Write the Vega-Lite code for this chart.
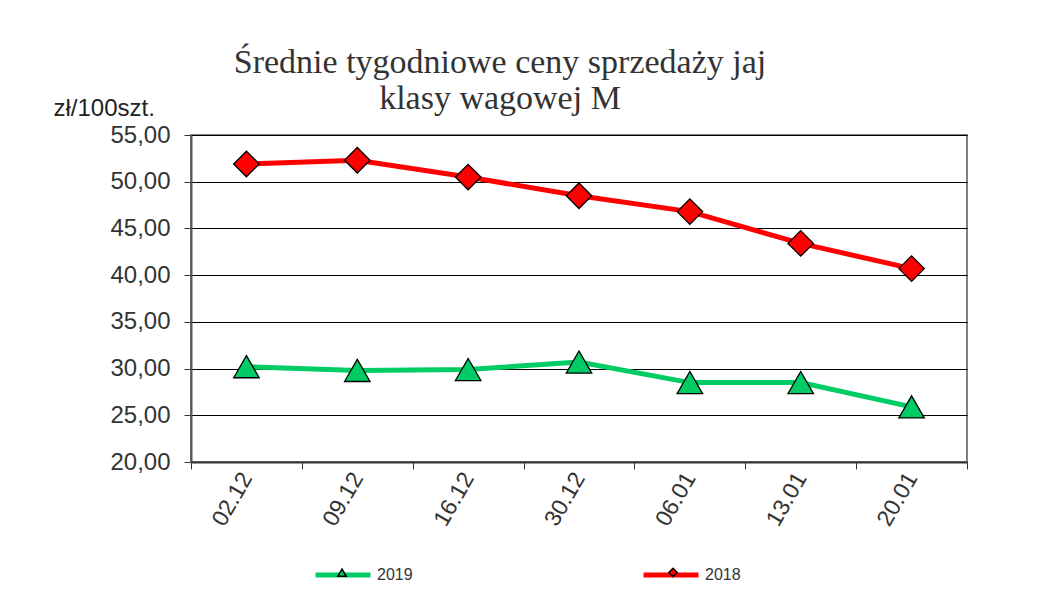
{
  "$schema": "https://vega.github.io/schema/vega-lite/v6.json",
  "width": 776,
  "height": 327,
  "autosize": {"type": "none"},
  "padding": {"left": 191, "top": 135, "right": 70, "bottom": 134},
  "background": "white",
  "title": {
    "text": ["Średnie tygodniowe ceny sprzedaży jaj", "klasy wagowej M"],
    "anchor": "middle",
    "frame": "group",
    "dx": -79,
    "dy": 40,
    "fontSize": 34,
    "fontWeight": "normal",
    "font": "Liberation Serif",
    "color": "#333333",
    "lineHeight": 36,
    "offset": 20
  },
  "data": {
    "values": [
      {"date": "02.12", "year": "2019", "value": 30.2},
      {"date": "09.12", "year": "2019", "value": 29.8},
      {"date": "16.12", "year": "2019", "value": 29.9},
      {"date": "30.12", "year": "2019", "value": 30.7},
      {"date": "06.01", "year": "2019", "value": 28.5},
      {"date": "13.01", "year": "2019", "value": 28.5},
      {"date": "20.01", "year": "2019", "value": 25.9},
      {"date": "02.12", "year": "2018", "value": 51.9},
      {"date": "09.12", "year": "2018", "value": 52.3},
      {"date": "16.12", "year": "2018", "value": 50.5},
      {"date": "30.12", "year": "2018", "value": 48.5},
      {"date": "06.01", "year": "2018", "value": 46.8},
      {"date": "13.01", "year": "2018", "value": 43.4},
      {"date": "20.01", "year": "2018", "value": 40.7}
    ]
  },
  "encoding": {
    "x": {
      "field": "date",
      "type": "ordinal",
      "sort": null,
      "scale": {"paddingInner": 0, "paddingOuter": 0},
      "axis": {
        "title": null,
        "labelAngle": -60,
        "labelFontSize": 23,
        "labelColor": "#333333",
        "labelPadding": 5,
        "tickBand": "extent",
        "tickSize": 7,
        "tickColor": "#333333",
        "domainColor": "#333333",
        "domainWidth": 2,
        "grid": false
      }
    },
    "y": {
      "field": "value",
      "type": "quantitative",
      "scale": {"domain": [20, 55], "nice": false, "zero": false},
      "axis": {
        "values": [20, 25, 30, 35, 40, 45, 50, 55],
        "labelExpr": "replace(format(datum.value, '.2f'), '.', ',')",
        "labelFontSize": 24,
        "labelColor": "#333333",
        "labelPadding": 14,
        "tickSize": 7,
        "tickColor": "#333333",
        "domainColor": "#555555",
        "domainWidth": 2,
        "grid": true,
        "gridColor": "#000000",
        "gridWidth": 1,
        "title": "zł/100szt.",
        "titleAngle": 0,
        "titleX": -138,
        "titleY": -20,
        "titleAlign": "left",
        "titleBaseline": "alphabetic",
        "titleFontSize": 24,
        "titleFontWeight": "normal",
        "titleColor": "#222222"
      }
    }
  },
  "layer": [
    {
      "mark": {"type": "line", "strokeWidth": 5},
      "encoding": {
        "stroke": {
          "field": "year",
          "type": "nominal",
          "sort": "descending",
          "scale": {"range": ["#00CC66", "#FF0000"]},
          "legend": {
            "orient": "none",
            "direction": "horizontal",
            "legendX": 122,
            "legendY": 410,
            "title": null,
            "padding": 0,
            "symbolType": "stroke",
            "symbolSize": 3025,
            "symbolStrokeWidth": 5,
            "labelFontSize": 16,
            "labelColor": "#333333",
            "labelOffset": 4,
            "columnPadding": 220
          }
        }
      }
    },
    {
      "mark": {"type": "point", "filled": true, "size": 650, "stroke": "#000000", "strokeWidth": 1.3, "opacity": 1},
      "encoding": {
        "shape": {
          "field": "year",
          "type": "nominal",
          "scale": {"domain": ["2019", "2018"], "range": ["triangle-up", "diamond"]},
          "legend": {
            "orient": "none",
            "direction": "horizontal",
            "legendX": 146,
            "legendY": 432,
            "title": null,
            "padding": 0,
            "symbolSize": 70,
            "labelExpr": "''",
            "labelOffset": 0,
            "columnPadding": 315,
            "encode": {"symbols": {"update": {"size": {"value": 70}, "strokeWidth": {"value": 1.5}, "stroke": {"value": "#000000"}}}}
          }
        },
        "fill": {
          "field": "year",
          "type": "nominal",
          "scale": {"domain": ["2019", "2018"], "range": ["#00CC66", "#FF0000"]},
          "legend": {
            "orient": "none",
            "direction": "horizontal",
            "legendX": 146,
            "legendY": 432,
            "title": null,
            "padding": 0,
            "symbolSize": 70,
            "labelExpr": "''",
            "labelOffset": 0,
            "columnPadding": 315,
            "encode": {"symbols": {"update": {"size": {"value": 70}, "strokeWidth": {"value": 1.5}, "stroke": {"value": "#000000"}}}}
          }
        }
      }
    }
  ],
  "config": {
    "font": "Liberation Sans",
    "view": {"stroke": "#808080", "strokeWidth": 2}
  }
}
